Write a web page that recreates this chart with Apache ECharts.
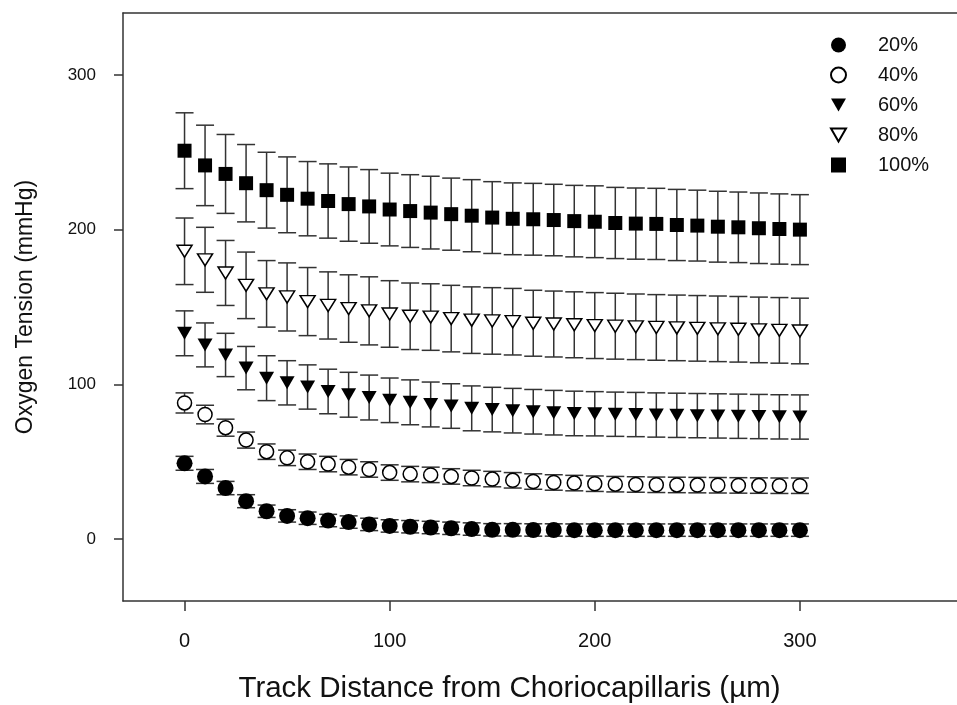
<!DOCTYPE html>
<html>
<head>
<meta charset="utf-8">
<script src="https://cdn.jsdelivr.net/npm/echarts@6/dist/echarts.min.js"></script>
<style>
html, body { margin: 0; padding: 0; background: #fff; }
#chart { width: 957px; height: 705px; }
</style>
</head>
<body>
<div id="chart"></div>
<script>
// track distance from choriocapillaris (um)
var distance = [0, 10, 20, 30, 40, 50, 60, 70, 80, 90, 100, 110, 120, 130, 140, 150,
  160, 170, 180, 190, 200, 210, 220, 230, 240, 250, 260, 270, 280, 290, 300];

// mean oxygen tension (mmHg) per inspired O2 level
var po2_20 = [49, 40.5, 33, 24.5, 18, 15, 13.5, 12, 11, 9.5, 8.5, 8, 7.5, 7, 6.5, 6,
  6, 5.9, 5.9, 5.8, 5.8, 5.8, 5.8, 5.8, 5.8, 5.8, 5.8, 5.8, 5.8, 5.8, 5.8];
var po2_40 = [88, 80.5, 72, 64, 56.5, 52.5, 50, 48.5, 46.5, 45, 43, 42, 41.5, 40.5, 39.5, 38.8,
  38, 37.2, 36.6, 36.2, 35.8, 35.5, 35.3, 35.1, 35, 34.9, 34.8, 34.7, 34.6, 34.5, 34.5];
var po2_60 = [133, 125.5, 119, 110.5, 104, 101, 98.3, 95.4, 93.3, 91.5, 89.7, 88.4, 87, 86, 84.5, 83.7,
  83, 82.3, 81.7, 81.2, 81, 80.7, 80.5, 80.2, 80, 79.8, 79.6, 79.4, 79.2, 79, 78.9];
var po2_80 = [186, 180.5, 172, 164, 158.5, 156.5, 153.5, 151, 149, 147.5, 145.5, 144, 143.5, 142.5, 141.5, 141,
  140.5, 139.5, 139, 138.5, 138, 137.6, 137.2, 136.8, 136.5, 136.2, 135.9, 135.6, 135.2, 134.9, 134.5];
var po2_100 = [251, 241.5, 236, 230, 225.5, 222.5, 220, 218.5, 216.5, 215, 213, 212, 211, 210, 209, 207.8,
  207, 206.7, 206.2, 205.5, 205.1, 204.3, 203.9, 203.7, 203, 202.6, 201.9, 201.5, 200.9, 200.4, 200];

// error bar half-lengths (mmHg)
var err_20 = [4.5, 4.5, 4.3, 4.2, 4, 4, 4, 4, 4, 4, 4, 4, 4, 4, 4, 4,
  4, 4, 4, 4, 4, 4, 4, 4, 4, 4, 4, 4, 4, 4, 4];
var err_40 = [6.5, 6, 5.5, 5.2, 5, 5, 5, 5, 5, 5, 5, 5, 5, 5, 5, 5,
  5, 5, 5, 5, 5, 5, 5, 5, 5, 5, 5, 5, 5, 5, 5];
var err_60 = [14.5, 14.2, 14, 14, 14.5, 14.3, 14.3, 14.4, 14.5, 14.5, 14.4, 14.5, 14.5, 14.4, 14.5, 14.4,
  14.4, 14.4, 14.4, 14.4, 14.3, 14.3, 14.3, 14.3, 14.3, 14.3, 14.3, 14.3, 14.3, 14.3, 14.3];
var err_80 = [21.5, 21, 21, 21.5, 21.5, 22, 22, 21.7, 21.8, 22, 21.5, 21.5, 21.5, 21.5, 21.5, 21.5,
  21.5, 21.3, 21.3, 21.3, 21.3, 21.3, 21.2, 21.2, 21.2, 21.2, 21.2, 21.2, 21.2, 21.2, 21.2];
var err_100 = [24.5, 26, 25.5, 25, 24.5, 24.5, 24, 24, 24, 23.8, 23.5, 23.5, 23.5, 23.3, 23.3, 23.2,
  23.2, 23.2, 23.1, 23.1, 23.2, 23, 23, 23, 23, 22.9, 22.9, 22.8, 22.8, 22.7, 22.6];

var labels = ['20%', '40%', '60%', '80%', '100%'];
var xTicks = [0, 100, 200, 300];
var yTicks = [0, 100, 200, 300];

var FONT = '"Liberation Sans", Arial, sans-serif';
var triDown = 'path://M0,0 L16,0 L8,14 Z';

var groups = [
  { name: labels[0], y: po2_20, e: err_20, symbol: 'circle', size: 16, style: { color: '#000', opacity: 1 } },
  { name: labels[1], y: po2_40, e: err_40, symbol: 'circle', size: 14,
    style: { color: '#fff', borderColor: '#000', borderWidth: 1.5, opacity: 1 } },
  { name: labels[2], y: po2_60, e: err_60, symbol: triDown, size: [15, 13], style: { color: '#000', opacity: 1 } },
  { name: labels[3], y: po2_80, e: err_80, symbol: triDown, size: [15, 12],
    style: { color: '#fff', borderColor: '#000', borderWidth: 1.5, opacity: 1 } },
  { name: labels[4], y: po2_100, e: err_100, symbol: 'rect', size: 14, style: { color: '#000', opacity: 1 } }
];

function renderErrorBar(params, api) {
  var x = api.value(0);
  var hi = api.coord([x, api.value(1) + api.value(2)]);
  var lo = api.coord([x, api.value(1) - api.value(2)]);
  var half = 9;
  var st = { stroke: '#333', lineWidth: 1.5 };
  return {
    type: 'group',
    children: [
      { type: 'line', shape: { x1: hi[0], y1: hi[1], x2: lo[0], y2: lo[1] }, style: st },
      { type: 'line', shape: { x1: hi[0] - half, y1: hi[1], x2: hi[0] + half, y2: hi[1] }, style: st },
      { type: 'line', shape: { x1: lo[0] - half, y1: lo[1], x2: lo[0] + half, y2: lo[1] }, style: st }
    ]
  };
}

var series = [];
groups.forEach(function (g) {
  series.push({
    name: 'err ' + g.name,
    type: 'custom',
    renderItem: renderErrorBar,
    data: distance.map(function (d, i) { return [d, g.y[i], g.e[i]]; }),
    z: 2,
    silent: true
  });
});
groups.forEach(function (g) {
  series.push({
    name: g.name,
    type: 'scatter',
    symbol: g.symbol,
    symbolSize: g.size,
    itemStyle: g.style,
    data: distance.map(function (d, i) { return [d, g.y[i]]; }),
    z: 3
  });
});

var axisLineStyle = { color: '#333', width: 1.5 };

var chart = echarts.init(document.getElementById('chart'));
chart.setOption({
  animation: false,
  backgroundColor: '#fff',
  textStyle: { fontFamily: FONT },
  grid: { left: 123, top: 13, width: 841, height: 588, outerBoundsMode: 'none', containLabel: false },
  legend: {
    data: labels,
    orient: 'vertical',
    left: 825,
    top: 30,
    itemWidth: 15,
    itemHeight: 15,
    itemGap: 10,
    textStyle: { fontSize: 20, color: '#111', lineHeight: 18, padding: [0, 0, 0, 27] }
  },
  xAxis: [{
    type: 'value',
    position: 'bottom',
    min: -30,
    max: 380,
    name: 'Track Distance from Choriocapillaris (µm)',
    nameLocation: 'middle',
    nameGap: 73,
    nameTextStyle: { fontSize: 29.5, color: '#111', padding: [0, 68, 0, 0] },
    splitLine: { show: false },
    axisLine: { show: true, onZero: false, lineStyle: axisLineStyle },
    axisTick: { show: true, length: 10, customValues: xTicks, lineStyle: axisLineStyle },
    axisLabel: { fontSize: 20, color: '#111', margin: 30, customValues: xTicks }
  }, {
    // top frame line only
    type: 'value',
    position: 'top',
    min: -30,
    max: 380,
    splitLine: { show: false },
    axisLine: { show: true, onZero: false, lineStyle: axisLineStyle },
    axisTick: { show: false },
    axisLabel: { show: false }
  }],
  yAxis: {
    type: 'value',
    min: -40,
    max: 340,
    name: 'Oxygen Tension (mmHg)',
    nameLocation: 'middle',
    nameGap: 86,
    nameTextStyle: { fontSize: 23, color: '#111' },
    splitLine: { show: false },
    axisLine: { show: true, onZero: false, lineStyle: axisLineStyle },
    axisTick: { show: true, length: 9, customValues: yTicks, lineStyle: axisLineStyle },
    axisLabel: { fontSize: 17, color: '#111', margin: 27, customValues: yTicks }
  },
  series: series
});
</script>
</body>
</html>
